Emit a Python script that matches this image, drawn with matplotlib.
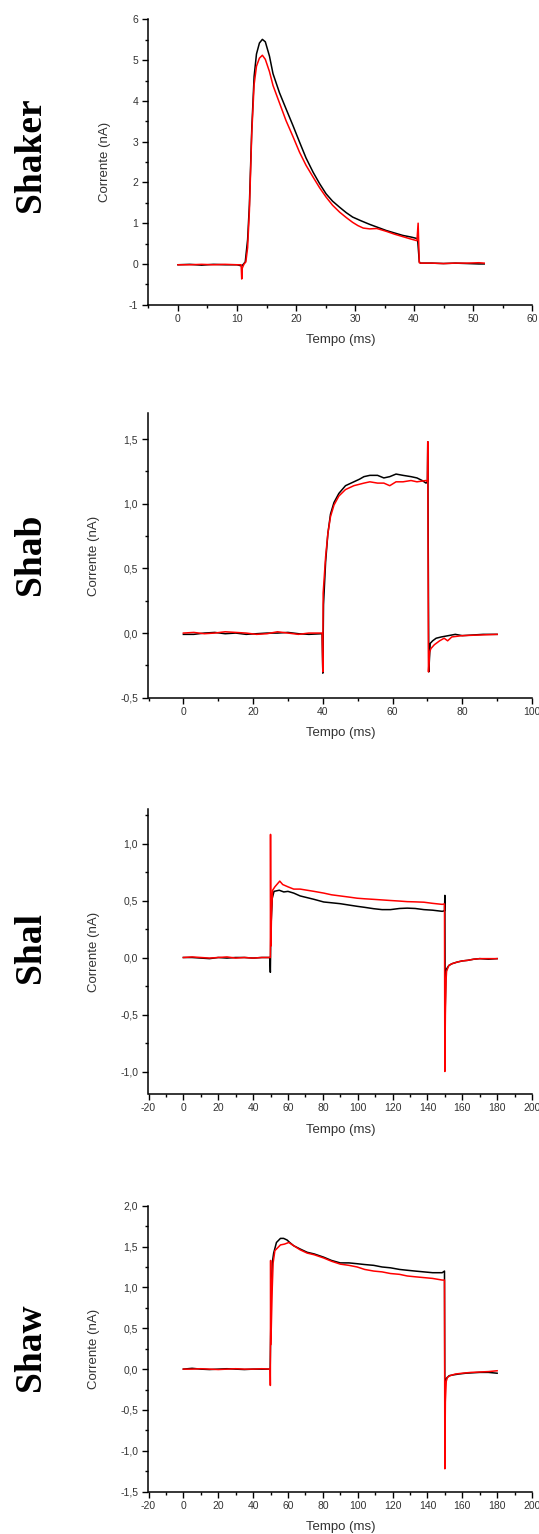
import matplotlib
matplotlib.use("Agg")
from matplotlib import pyplot as plt
from matplotlib.ticker import MultipleLocator, FuncFormatter

plt.rcParams["font.family"] = ["Liberation Sans", "DejaVu Sans"]
plt.rcParams["axes.unicode_minus"] = False

# ---- Shaker ----
shaker_t_preto = [0, 2, 4, 6, 8, 10, 10.8, 11.0, 11.4, 11.8, 12.1, 12.5, 12.9, 13.3, 13.8, 14.3, 14.8,
                  15.5, 16.1, 17.2, 18.3, 19.5, 20.6, 21.7, 22.9, 24.0, 25.1, 26.2, 27.4, 28.5, 29.6,
                  31.0, 32.5, 34.0, 35.3, 36.7, 38.1, 39.5, 40.6, 40.9, 41.1, 43, 45, 47, 49, 51, 51.9]
shaker_i_preto = [-0.02, -0.01, -0.03, -0.01, -0.02, -0.02, -0.05, -0.02, 0.05, 0.6, 1.45, 3.3, 4.6,
                  5.15, 5.42, 5.51, 5.45, 5.1, 4.67, 4.2, 3.81, 3.39, 2.99, 2.6, 2.25, 1.97, 1.72, 1.54,
                  1.39, 1.26, 1.15, 1.06, 0.97, 0.89, 0.82, 0.76, 0.70, 0.66, 0.62, 0.05, 0.02, 0.02,
                  0.01, 0.02, 0.01, 0.0, 0.0]
shaker_t_verm = [0, 2, 4, 6, 8, 10, 10.7, 10.8, 10.9, 11.2, 11.5, 11.8, 12.1, 12.5, 12.9, 13.3, 13.8,
                 14.3, 14.8, 15.5, 16.1, 17.2, 18.3, 19.5, 20.6, 21.7, 22.9, 24.0, 25.1, 26.2, 27.4,
                 28.5, 29.6, 30.5, 31.4, 32.5, 33.7, 35.3, 36.7, 38.1, 39.5, 40.5, 40.7, 40.9, 41.2,
                 43, 45, 47, 49, 51, 51.9]
shaker_i_verm = [-0.02, -0.02, -0.01, -0.02, -0.01, -0.02, -0.02, -0.37, -0.1, 0.0, 0.05, 0.4, 1.3,
                 3.2, 4.4, 4.85, 5.05, 5.12, 5.02, 4.72, 4.38, 3.95, 3.52, 3.12, 2.74, 2.42, 2.13,
                 1.87, 1.64, 1.44, 1.27, 1.14, 1.02, 0.94, 0.88, 0.86, 0.87, 0.80, 0.73, 0.67, 0.61,
                 0.57, 1.0, 0.03, 0.02, 0.02, 0.01, 0.02, 0.02, 0.03, 0.02]

# ---- Shab ----
shab_t_preto = [0, 3, 6, 9, 12, 15, 18, 21, 24, 27, 30, 33, 36, 39.8, 40.0, 40.2, 40.8, 41.45, 42.2,
                43.2, 44.6, 46.5, 48.9, 50.5, 51.8, 53.5, 55.7, 57.5, 59.2, 61, 63, 65.3, 67, 68.5,
                69.6, 70.0, 70.1, 70.4, 70.8, 71.5, 72.5, 74, 76, 78, 80, 83, 86, 90]
shab_i_preto = [-0.01, -0.01, 0.0, 0.005, -0.005, 0.0, -0.01, -0.005, 0.0, 0.0, 0.005, -0.005, -0.01,
                -0.005, -0.31, 0.22, 0.55, 0.77, 0.92, 1.01, 1.08, 1.14, 1.17, 1.19, 1.21, 1.22, 1.22,
                1.20, 1.21, 1.23, 1.22, 1.21, 1.20, 1.18, 1.16, 1.17, 1.48, -0.30, -0.08, -0.06,
                -0.04, -0.03, -0.02, -0.01, -0.02, -0.015, -0.01, -0.01]
shab_t_verm = [0, 3, 6, 9, 12, 15, 18, 21, 24, 27, 30, 33, 36, 39.8, 40.0, 40.1, 40.8, 41.45, 42.2,
               43.2, 44.6, 46.5, 48.9, 51.8, 53.5, 55.7, 57.5, 59.2, 61, 63, 65.3, 67, 69.6, 70.0,
               70.1, 70.3, 70.6, 71, 72, 73.5, 74.8, 75.8, 77, 80, 85, 90]
shab_i_verm = [0.0, 0.005, -0.005, 0.0, 0.01, 0.005, 0.0, -0.01, -0.005, 0.01, 0.0, -0.01, 0.0, 0.0,
               -0.30, 0.31, 0.59, 0.77, 0.90, 0.99, 1.06, 1.11, 1.14, 1.16, 1.17, 1.16, 1.16, 1.14,
               1.17, 1.17, 1.18, 1.17, 1.18, 1.17, 1.48, -0.30, -0.15, -0.12, -0.09, -0.06, -0.04,
               -0.06, -0.03, -0.02, -0.015, -0.01]

# ---- Shal ----
shal_t_preto = [0, 5, 10, 15, 20, 25, 30, 35, 40, 45, 49.6, 49.9, 50.2, 51, 52, 55, 57.6, 60, 63.3, 67,
                71, 75, 80.5, 85, 90, 95, 99.7, 104, 109.2, 114, 118.8, 124, 128.4, 133, 138, 143,
                148.5, 149.8, 150.0, 150.2, 150.6, 151, 152.3, 154, 157.1, 160, 163, 166.6, 170,
                175, 180]
shal_i_preto = [0.0, 0.0, -0.005, -0.01, 0.0, -0.005, 0.0, 0.0, -0.005, 0.0, 0.0, -0.13, 0.25, 0.52,
                0.58, 0.59, 0.575, 0.58, 0.565, 0.54, 0.525, 0.51, 0.487, 0.48, 0.472, 0.46, 0.449,
                0.44, 0.428, 0.42, 0.42, 0.43, 0.433, 0.43, 0.42, 0.415, 0.405, 0.41, 0.545, -0.45,
                -0.15, -0.1, -0.07, -0.055, -0.04, -0.03, -0.025, -0.015, -0.01, -0.015, -0.01]
shal_t_verm = [0, 5, 10, 15, 20, 25, 30, 35, 40, 45, 49.9, 50.0, 50.2, 50.6, 51.2, 52.5, 55.3, 57, 60,
               63.3, 67, 71, 75, 80.5, 85, 90, 95, 99.7, 104, 109.2, 114, 118.8, 124, 128.4, 133,
               138, 143, 148.5, 149.8, 150.0, 150.3, 150.7, 151, 152.3, 154, 157.1, 160, 163, 166.6,
               170, 175, 180]
shal_i_verm = [0.0, 0.005, 0.0, -0.005, 0.0, 0.005, -0.005, 0.0, -0.005, 0.0, 0.0, 1.08, 0.1, 0.4,
               0.59, 0.62, 0.67, 0.64, 0.62, 0.60, 0.60, 0.59, 0.58, 0.565, 0.55, 0.54, 0.53, 0.52,
               0.515, 0.51, 0.505, 0.50, 0.495, 0.49, 0.488, 0.485, 0.475, 0.466, 0.47, -1.0, -0.5,
               -0.2, -0.12, -0.07, -0.055, -0.04, -0.03, -0.025, -0.015, -0.01, -0.01, -0.01]

# ---- Shaw ----
shaw_t_preto = [0, 5, 10, 15, 20, 25, 30, 35, 40, 45, 49.8, 50.0, 50.5, 51, 51.8, 53.4, 55.7, 57.5,
                59.5, 61, 63.3, 67, 71, 75, 80.5, 85, 90, 95, 99.7, 104, 109.2, 114, 118.8, 124, 128.4,
                133, 138, 143, 148.5, 149.8, 150.0, 150.3, 151, 152.5, 155, 158, 162, 166, 170, 175,
                180]
shaw_i_preto = [0.0, 0.01, 0.0, -0.005, 0.0, 0.005, 0.0, -0.005, 0.0, 0.0, 0.0, 0.3, 1.0, 1.3, 1.42,
                1.55, 1.60, 1.60, 1.58, 1.55, 1.51, 1.47, 1.43, 1.41, 1.37, 1.33, 1.30, 1.30, 1.29,
                1.28, 1.27, 1.25, 1.24, 1.22, 1.21, 1.20, 1.19, 1.18, 1.18, 1.20, -0.4, -0.15, -0.11,
                -0.08, -0.07, -0.06, -0.05, -0.045, -0.04, -0.04, -0.05]
shaw_t_verm = [0, 5, 10, 15, 20, 25, 30, 35, 40, 45, 49.8, 49.9, 50.05, 50.2, 51.0, 51.5, 52.5, 53.4,
               55.7, 58, 60.5, 63.3, 67, 71, 75, 80.5, 85, 90, 95, 99.7, 104, 109.2, 114, 118.8, 124,
               128.4, 133, 138, 143, 148.5, 149.8, 150.0, 150.3, 150.8, 151.5, 153, 156, 160, 165,
               170, 175, 180]
shaw_i_verm = [0.0, 0.0, 0.005, 0.0, -0.005, 0.0, 0.005, 0.0, 0.0, 0.005, 0.0, -0.2, 1.33, 0.3, 1.0,
               1.3, 1.45, 1.47, 1.52, 1.53, 1.55, 1.51, 1.46, 1.42, 1.40, 1.36, 1.32, 1.285, 1.27,
               1.25, 1.22, 1.20, 1.19, 1.17, 1.16, 1.14, 1.13, 1.12, 1.11, 1.09, 1.09, -1.22, -0.4,
               -0.15, -0.1, -0.08, -0.06, -0.05, -0.04, -0.035, -0.03, -0.02]

nomes = ["Shaker", "Shab", "Shal", "Shaw"]
centros_nome = [155, 554, 948, 1347]  # pixels from top

# axes boxes in pixels: (top, bottom)
caixas = [(19.4, 304.7), (413.3, 697.7), (809.3, 1094.3), (1205.7, 1491.7)]
esq, dir_ = 148.5, 532.0
W, H = 539, 1534


def virgula(v, pos):
    return ("%.1f" % (v + 0.0)).replace(".", ",")


def inteiro(v, pos):
    return "%d" % round(v)


fig = plt.figure(figsize=(W / 100, H / 100), dpi=100)

paineis = [
    (shaker_t_preto, shaker_i_preto, shaker_t_verm, shaker_i_verm, (-5, 60), (-1, 6), 10, 5, 1, 0.5, inteiro),
    (shab_t_preto, shab_i_preto, shab_t_verm, shab_i_verm, (-10, 100), (-0.5, 1.7), 20, 10, 0.5, 0.25, virgula),
    (shal_t_preto, shal_i_preto, shal_t_verm, shal_i_verm, (-20, 200), (-1.2, 1.3), 20, 10, 0.5, 0.25, virgula),
    (shaw_t_preto, shaw_i_preto, shaw_t_verm, shaw_i_verm, (-20, 200), (-1.5, 2.0), 20, 10, 0.5, 0.25, virgula),
]

for k, p in enumerate(paineis):
    tp, ip, tv, iv, xl, yl, xmaj, xmin, ymaj, ymin, fmt = p
    topo, base = caixas[k]
    ax = fig.add_axes([esq / W, 1 - base / H, (dir_ - esq) / W, (base - topo) / H])
    ax.plot(tp, ip, color="black", lw=1.1)
    ax.plot(tv, iv, color="#ff0000", lw=1.1)
    ax.set_xlim(xl)
    ax.set_ylim(yl)
    ax.xaxis.set_major_locator(MultipleLocator(xmaj))
    ax.xaxis.set_minor_locator(MultipleLocator(xmin))
    ax.yaxis.set_major_locator(MultipleLocator(ymaj))
    ax.yaxis.set_minor_locator(MultipleLocator(ymin))
    ax.yaxis.set_major_formatter(FuncFormatter(fmt))
    ax.xaxis.set_major_formatter(FuncFormatter(inteiro))
    for s in ["top", "right"]:
        ax.spines[s].set_visible(False)
    for s in ["left", "bottom"]:
        ax.spines[s].set_linewidth(1.1)
    ax.tick_params(which="major", direction="out", length=4, width=1, labelsize=7.5,
                   labelcolor="#333333")
    ax.tick_params(which="minor", direction="out", length=2.5, width=1)
    ax.tick_params(axis="x", pad=2.5)
    ax.tick_params(axis="y", pad=3.5)
    ax.set_xlabel("Tempo (ms)", fontsize=9.5, color="#333333", va="center")
    ax.set_ylabel("Corrente (nA)", fontsize=9.5, color="#333333", va="center")
    alt = base - topo
    larg = dir_ - esq
    ax.xaxis.set_label_coords(0.5, -35.5 / alt)
    xlab = 105 if k == 0 else 94.5
    ax.yaxis.set_label_coords((xlab - esq) / larg, 0.5)

    fig.text(31 / W, 1 - centros_nome[k] / H, nomes[k], rotation=90, ha="center", va="center",
             fontsize=27, fontweight="bold", family=["Liberation Serif", "DejaVu Serif"])

fig.savefig("out.png", dpi=100)
